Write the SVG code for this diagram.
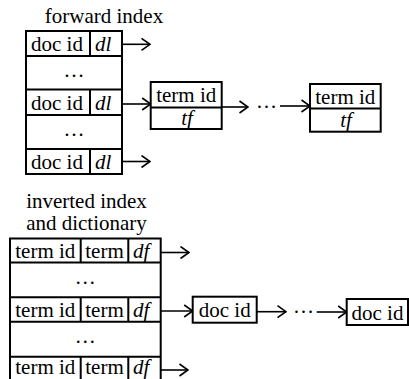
<svg xmlns="http://www.w3.org/2000/svg" width="409" height="379" viewBox="0 0 409 379">
<style>
  text { font-family: "Liberation Serif", "Times New Roman", serif; font-size: 21px; fill: #000; }
  .c { text-anchor: middle; }
  .i { font-style: italic; }
  .box { fill: #fff; stroke: #000; stroke-width: 2; }
  .ln { fill: none; stroke: #000; stroke-width: 2; }
  .arr { fill: none; stroke: #000; stroke-width: 1.6; marker-end: url(#ah); }
</style>
<defs>
  <marker id="ah" markerUnits="userSpaceOnUse" viewBox="0 0 10 14" refX="9.5" refY="7" markerWidth="10" markerHeight="14" orient="auto">
    <path d="M1,1 L9.5,7 L1,13" fill="none" stroke="#000" stroke-width="1.6"/>
  </marker>
</defs>
<rect width="409" height="379" fill="#fff"/>

<g id="title-forward">
  <text class="c" x="104" y="23">forward index</text>
</g>

<g id="forward-index">
  <rect class="box" x="26" y="31" width="96" height="143"/>
  <path class="ln" d="M26,56 H122 M26,89.5 H122 M26,115 H122 M26,149 H122 M90,31 V56 M90,89.5 V115 M90,149 V174"/>
  <text x="31" y="51">doc id</text><text class="i" x="95" y="51">dl</text>
  <text class="c" x="74" y="77">…</text>
  <text x="31" y="110">doc id</text><text class="i" x="95" y="110">dl</text>
  <text class="c" x="74" y="136">…</text>
  <text x="31" y="169">doc id</text><text class="i" x="95" y="169">dl</text>
</g>

<g id="term-box-1">
  <rect class="box" x="150.7" y="82" width="71" height="47"/>
  <path class="ln" d="M150.7,107.5 H221.7"/>
  <text class="c" x="186.2" y="102">term id</text>
  <text class="c i" x="187" y="125">tf</text>
</g>

<g id="term-box-2">
  <rect class="box" x="310" y="84" width="70.7" height="47.7"/>
  <path class="ln" d="M310,108.5 H380.7"/>
  <text class="c" x="345.3" y="103.5">term id</text>
  <text class="c i" x="346" y="127">tf</text>
</g>

<g id="title-inverted">
  <text class="c" x="86.5" y="208">inverted index</text>
  <text class="c" x="86.5" y="230">and dictionary</text>
</g>

<g id="inverted-index">
  <rect class="box" x="10" y="238.5" width="150.7" height="143"/>
  <path class="ln" d="M10,262.5 H160.7 M10,297.3 H160.7 M10,321.7 H160.7 M10,356.7 H160.7 M80.7,238.5 V262.5 M128.3,238.5 V262.5 M80.7,297.3 V321.7 M128.3,297.3 V321.7 M80.7,356.7 V381 M128.3,356.7 V381"/>
  <text class="c" x="45.3" y="258">term id</text><text class="c" x="104.5" y="258">term</text><text class="i" x="133" y="258">df</text>
  <text class="c" x="85.3" y="284">…</text>
  <text class="c" x="45.3" y="317">term id</text><text class="c" x="104.5" y="317">term</text><text class="i" x="133" y="317">df</text>
  <text class="c" x="85.3" y="343">…</text>
  <text class="c" x="45.3" y="374">term id</text><text class="c" x="104.5" y="374">term</text><text class="i" x="133" y="374">df</text>
</g>

<g id="doc-box-1">
  <rect class="box" x="192.7" y="296.7" width="64" height="26"/>
  <text class="c" x="224.7" y="317.3">doc id</text>
</g>

<g id="doc-box-2">
  <rect class="box" x="346.7" y="299" width="61.3" height="26"/>
  <text class="c" x="377.5" y="320">doc id</text>
</g>

<g id="connectors">
  <path class="arr" d="M122,44.3 H150"/>
  <path class="arr" d="M122,104 H150.7"/>
  <path class="arr" d="M122,161.5 H150"/>
  <path class="arr" d="M221.7,107 H248"/>
  <text class="c" x="266.5" y="108">…</text>
  <path class="arr" d="M280,106 H310"/>
  <path class="arr" d="M160.7,252.5 H189"/>
  <path class="arr" d="M160.7,311 H192.7"/>
  <path class="arr" d="M160.7,370 H188"/>
  <path class="arr" d="M256.7,311.7 H286"/>
  <text class="c" x="303.5" y="313">…</text>
  <path class="arr" d="M316.7,312 H346.7"/>
</g>
</svg>
